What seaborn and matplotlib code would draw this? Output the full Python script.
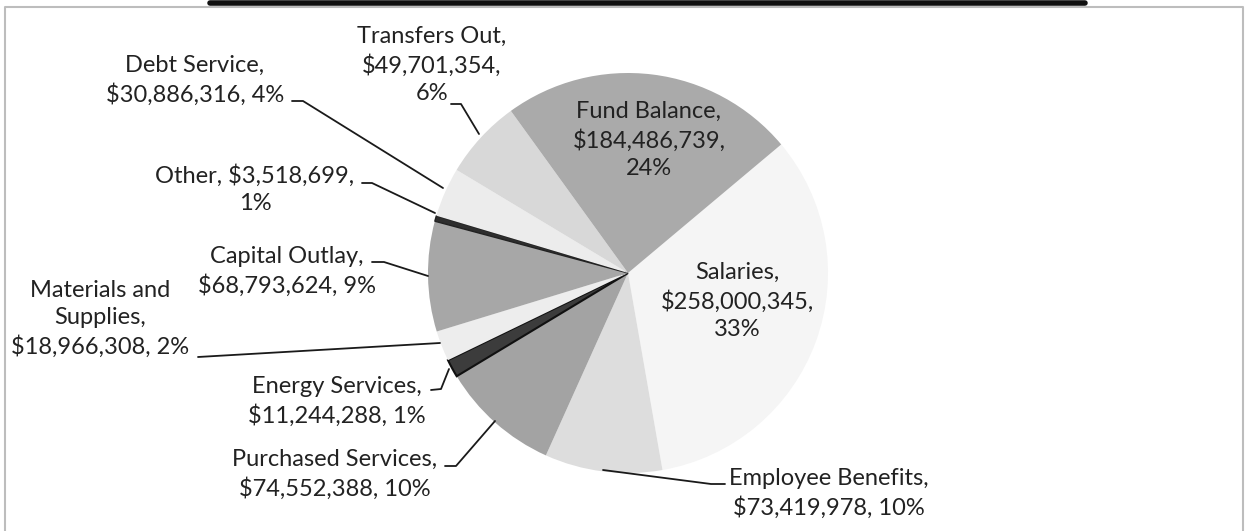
import matplotlib
matplotlib.use("Agg")
import matplotlib.pyplot as plt
import seaborn as sns

sns.set_theme(style="white")
plt.rcParams['font.family'] = ['Lato', 'DejaVu Sans']

categories = ["Salaries", "Employee Benefits", "Purchased Services", "Energy Services",
              "Materials and Supplies", "Capital Outlay", "Other", "Debt Service",
              "Transfers Out", "Fund Balance"]
values = [258000345, 73419978, 74552388, 11244288, 18966308, 68793624,
          3518699, 30886316, 49701354, 184486739]
pct_labels = ["33%", "10%", "10%", "1%", "2%", "9%", "1%", "4%", "6%", "24%"]

colors = ["#f5f5f5", "#dddddd", "#a3a3a3", "#3c3c3c", "#ededed", "#a7a7a7",
          "#2e2e2e", "#ececec", "#d8d8d8", "#aaaaaa"]

W, H = 1249, 531
fig = plt.figure(figsize=(W / 100, H / 100), dpi=100)
ax = fig.add_axes([0, 0, 1, 1])

def Y(y):
    return H - y

cx, cy, r = 628, 273, 200
wedges, _ = ax.pie(values, colors=colors, startangle=40, counterclock=False,
                   center=(cx, Y(cy)), radius=r, frame=True,
                   wedgeprops=dict(linewidth=0))
wedges[3].set_edgecolor("#111111")
wedges[3].set_linewidth(1.5)
wedges[6].set_edgecolor("#222222")
wedges[6].set_linewidth(1.0)
ax.set_xlim(0, W)
ax.set_ylim(0, H)
ax.set_aspect("equal")
ax.axis("off")

def money(v):
    return "${:,}".format(v)

fs = 17
tc = "#222222"
# label text layouts (text, center x, center y) in pixel coordinates
lab = {}
lab[0] = (f"{categories[0]},\n{money(values[0])},\n{pct_labels[0]}", 737, 301)
lab[1] = (f"{categories[1]},\n{money(values[1])}, {pct_labels[1]}", 829, 493)
lab[2] = (f"{categories[2]},\n{money(values[2])}, {pct_labels[2]}", 335, 474)
lab[3] = (f"{categories[3]},\n{money(values[3])}, {pct_labels[3]}", 337, 401)
lab[4] = (f"Materials and\nSupplies,\n{money(values[4])}, {pct_labels[4]}", 100, 319)
lab[5] = (f"{categories[5]},\n{money(values[5])}, {pct_labels[5]}", 287, 271)
lab[6] = (f"{categories[6]}, {money(values[6])},\n{pct_labels[6]}", 255, 189)
lab[7] = (f"{categories[7]},\n{money(values[7])}, {pct_labels[7]}", 195, 80)
lab[8] = (f"{categories[8]},\n{money(values[8])},\n{pct_labels[8]}", 432, 65)
lab[9] = (f"{categories[9]},\n{money(values[9])},\n{pct_labels[9]}", 649, 140)

for i, (t, x, y) in lab.items():
    ax.text(x, Y(y), t, ha="center", va="center", fontsize=fs, color=tc,
            linespacing=1.38)

# leader lines (pixel coordinates)
leaders = [
    [(725, 484), (711, 484), (603, 470)],
    [(445, 466), (456, 466), (495, 421)],
    [(431, 390), (441, 389), (449, 369)],
    [(198, 357), (440, 343)],
    [(372, 262), (384, 262), (428, 276)],
    [(362, 183), (372, 183), (435, 213)],
    [(292, 101), (303, 101), (443, 188)],
    [(451, 104), (461, 104), (479, 134)],
]
for pts in leaders:
    ax.plot([p[0] for p in pts], [Y(p[1]) for p in pts], color="#1a1a1a", lw=1.3)

# chart border and scan artifact line at top
ax.plot([5, 5, 1243, 1243], [Y(531), Y(7), Y(7), Y(531)], color="#bdbdbd", lw=1.5)
ax.plot([210, 1085], [Y(3), Y(3)], color="#111111", lw=4)

fig.savefig("out.png", dpi=100)
